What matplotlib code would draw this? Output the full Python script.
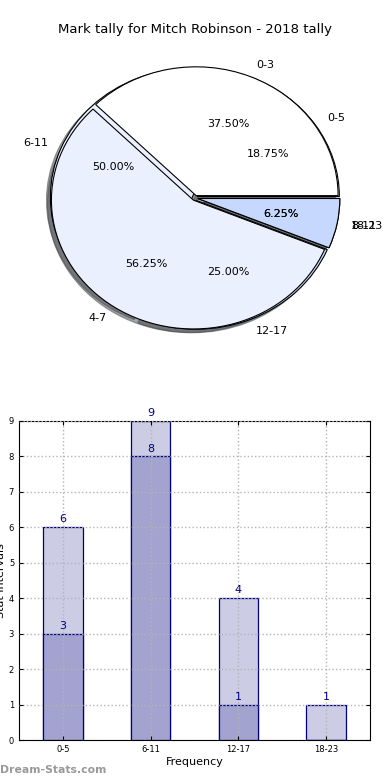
import numpy as np
import matplotlib.pyplot as plt

# Data
title = 'Mark tally for Mitch Robinson - 2018 tally'
pie_a_labels = ['0-3', '4-7', '8-11']
pie_a_values = [6, 9, 1]
pie_b_labels = ['0-5', '6-11', '12-17', '18-23']
pie_b_values = [3, 8, 4, 1]

bar_labels = ['0-5', '6-11', '12-17', '18-23']
bar_light = [6, 9, 4, 1]
bar_dark = [3, 8, 1, 0]

pie_colors = ['white', '#eaf0fd', '#c6d8fd', 'white']
light_col = '#ccccE4'
dark_col = '#a3a3cf'
edge_col = '#000080'

W, H = 390, 780
fig = plt.figure(figsize=(3.9, 7.8), dpi=100)

# Pie chart (two pies drawn on top of each other)
ax1 = fig.add_axes([17.5 / W, 1 - 359 / H, 355 / W, 322 / H])
ax1.pie(pie_b_values, labels=pie_b_labels, colors=pie_colors, autopct='%.2f%%',
        explode=[0.02] * 4, shadow=True,
        wedgeprops=dict(edgecolor='black', linewidth=0.8),
        textprops=dict(fontsize=8))
ax1.pie(pie_a_values, labels=pie_a_labels, colors=pie_colors[:3], autopct='%.2f%%',
        explode=[0.02] * 3, shadow=True,
        wedgeprops=dict(edgecolor='black', linewidth=0.8),
        textprops=dict(fontsize=8))
ax1.set_aspect('auto')
ax1.set_xlim(-1.25, 1.25)
ax1.set_ylim(-1.25, 1.25)
fig.text(195 / W, 1 - 30 / H, title, ha='center', va='center', fontsize=9.5)

# Bar chart
ax2 = fig.add_axes([19 / W, 1 - 740 / H, 351 / W, 319 / H])
x = np.arange(len(bar_labels))
bw = 0.45
ax2.bar(x, bar_light, width=bw, color=light_col, edgecolor=edge_col, linewidth=0.9, zorder=2)
ax2.bar(x, bar_dark, width=bw, color=dark_col, edgecolor=edge_col, linewidth=0.9, zorder=2)
for xi, v in zip(x, bar_light):
    ax2.text(xi, v + 0.08, str(v), ha='center', va='bottom', color=edge_col, fontsize=8, zorder=4)
for xi, v in zip(x, bar_dark):
    if v > 0:
        ax2.text(xi, v + 0.08, str(v), ha='center', va='bottom', color=edge_col, fontsize=8, zorder=4)

ax2.set_xlim(-0.5, 3.5)
ax2.set_ylim(0, 9)
ax2.set_xticks(x)
ax2.set_xticklabels(bar_labels)
ax2.set_yticks(range(10))
ax2.tick_params(labelsize=6, direction='in', top=True, right=True, length=3)
ax2.grid(True, linestyle=':', color='#b4b4b4', linewidth=1.0, zorder=3)
ax2.set_axisbelow(False)
ax2.set_xlabel('Frequency', fontsize=8, labelpad=2)
ax2.set_ylabel('Stat Intervals', fontsize=8, labelpad=2)

fig.text(0, 1 - 770 / H, 'Dream-Stats.com', ha='left', va='center', fontsize=7.8,
         color='#999999', fontweight='bold')

fig.savefig('out.png', dpi=100)
